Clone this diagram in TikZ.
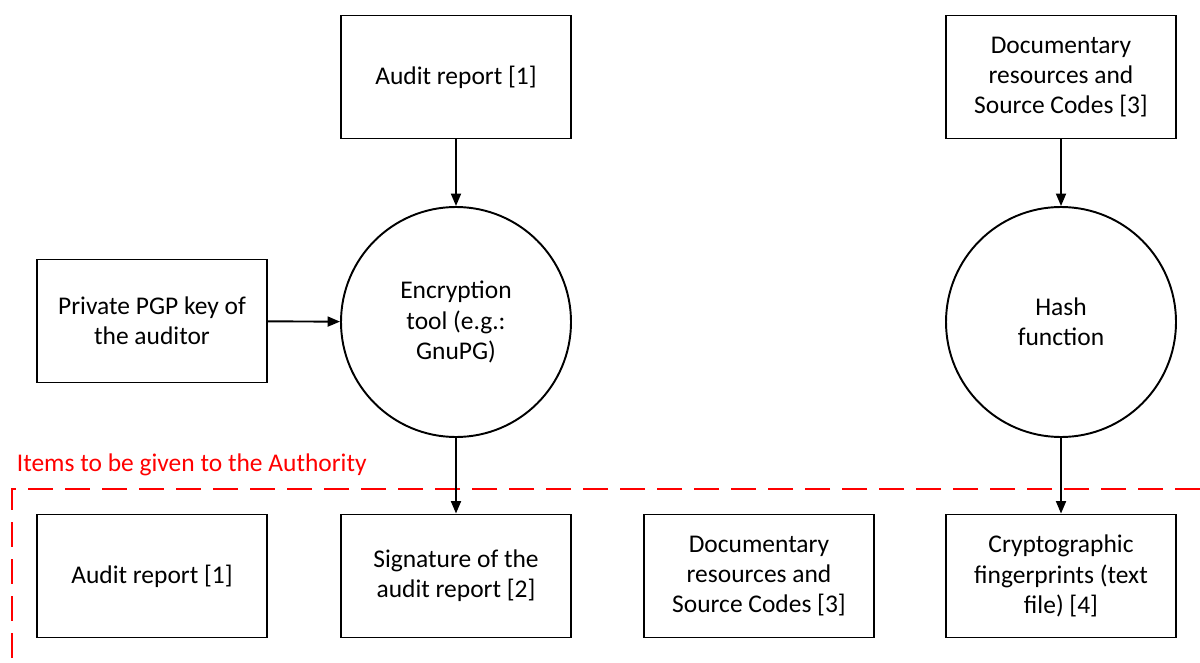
\documentclass[tikz,border=0pt]{standalone}
\usepackage{fontspec}
\setmainfont{Carlito}
\usetikzlibrary{arrows.meta}

\begin{document}
\begin{tikzpicture}[
    every node/.style={align=center, font=\fontsize{14.5}{17.2}\selectfont},
    item/.style={draw, line width=1.1pt, minimum width=4.6cm, minimum height=2.46cm},
    tool/.style={draw, circle, line width=1.1pt, minimum size=4.6cm, inner sep=0pt},
    flow/.style={line width=1.1pt, -{Triangle[length=0.25cm, width=0.2cm]}}
  ]
    \useasboundingbox (0,0) rectangle (24,13.24);
    % sources and tools
    \node[item] (report) at (9.12,11.7) {Audit report [1]};
    \node[item] (docs) at (21.22,11.7) {Documentary\\resources and\\Source Codes [3]};
    \node[item] (key) at (3.04,6.82) {Private PGP key of\\the auditor};
    \node[tool] (gpg) at (9.12,6.8) {Encryption\\tool (e.g.:\\GnuPG)};
    \node[tool] (hash) at (21.22,6.8) {Hash\\function};
    % items handed over
    \node[text=red, anchor=west, inner sep=0pt] (title) at (0.33,3.95) {Items to be given to the Authority};
    \draw[red, line width=1.2pt, dash pattern=on 0.5cm off 0.24cm] (24,3.46) -- (0.24,3.46) -- (0.24,0);
    \node[item] (report2) at (3.04,1.72) {Audit report [1]};
    \node[item] (sig) at (9.12,1.72) {Signature of the\\audit report [2]};
    \node[item] (docs2) at (15.18,1.72) {Documentary\\resources and\\Source Codes [3]};
    \node[item] (prints) at (21.22,1.72) {Cryptographic\\fingerprints (text\\file) [4]};
    % arrows
    \draw[flow] (report) -- (gpg);
    \draw[flow] (key) -- (gpg);
    \draw[flow] (gpg) -- (sig);
    \draw[flow] (docs) -- (hash);
    \draw[flow] (hash) -- (prints);
  \end{tikzpicture}
\end{document}
